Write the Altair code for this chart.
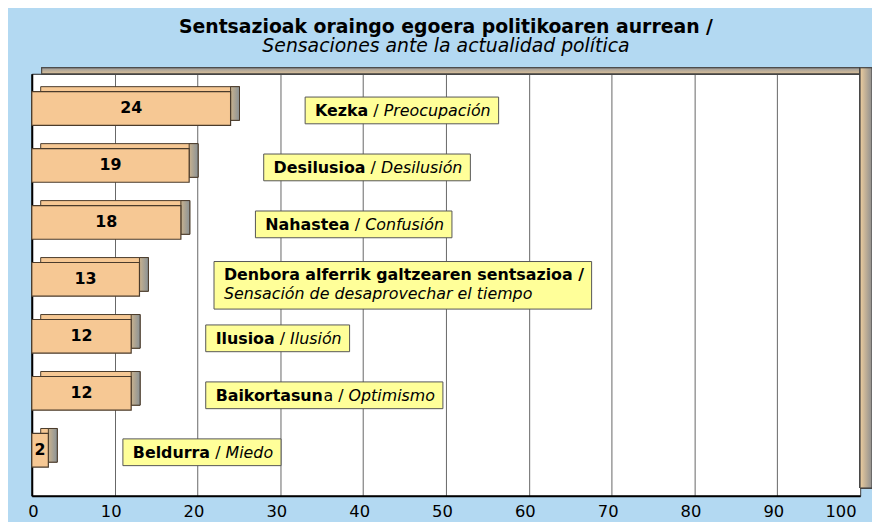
import altair as alt
import pandas as pd

# ---------------- data ----------------
title_eu = "Sentsazioak oraingo egoera politikoaren aurrean /"
title_es = "Sensaciones ante la actualidad política"
labels_eu = ["Kezka", "Desilusioa", "Nahastea",
             "Denbora alferrik galtzearen sentsazioa",
             "Ilusioa", "Baikortasuna", "Beldurra"]
labels_es = ["Preocupación", "Desilusión", "Confusión",
             "Sensación de desaprovechar el tiempo",
             "Ilusión", "Optimismo", "Miedo"]
values = [24, 19, 18, 13, 12, 12, 2]
x_ticks = [0, 10, 20, 30, 40, 50, 60, 70, 80, 90, 100]

# ---------------- layout / style ----------------
W, H = 836, 426
PXU = W / 100.0          # pixels per x unit
FS = 16
FONT = "DejaVu Sans"
BLUE = "#B3D9F2"
TAN = "#F6C894"
EDGE = "#4A3B2B"
YELLOW = "#FFFF99"
BOX_GAP = 9              # gap (x units) between bar end and label box
PAD_L, PAD_R = 10, 8
UNBOLD_TAIL = {"Baikortasuna": 1}   # last letter rendered regular in source

# DejaVu Sans advance widths (units per em 2048)
REG = {' ': 651, '/': 690, 'a': 1255, 'b': 1300, 'c': 1126, 'd': 1300, 'e': 1260,
       'f': 721, 'g': 1300, 'h': 1298, 'i': 569, 'j': 569, 'k': 1186, 'l': 569,
       'm': 1995, 'n': 1298, 'o': 1253, 'p': 1300, 'q': 1300, 'r': 842, 's': 1067,
       't': 803, 'u': 1298, 'v': 1212, 'w': 1675, 'x': 1212, 'y': 1212, 'z': 1075,
       'ó': 1253, 'í': 569, 'á': 1255, 'é': 1260, 'ú': 1298, 'A': 1401, 'B': 1405,
       'C': 1430, 'D': 1577, 'E': 1294, 'I': 604, 'K': 1343, 'M': 1767, 'N': 1532,
       'O': 1612, 'P': 1235, 'S': 1300}
BOLD = {' ': 713, '/': 747, 'a': 1382, 'b': 1466, 'c': 1219, 'd': 1466, 'e': 1389,
        'f': 891, 'g': 1466, 'h': 1458, 'i': 702, 'k': 1362, 'l': 702, 'm': 2134,
        'n': 1458, 'o': 1407, 'p': 1466, 'r': 1010, 's': 1219, 't': 979, 'u': 1458,
        'z': 1165, 'B': 1567, 'D': 1694, 'I': 760, 'K': 1587, 'N': 1714, 'S': 1475}


def tw(s, bold=False):
    tab = BOLD if bold else REG
    return sum(tab.get(c, 1400 if bold else 1250) for c in s) / 2048.0 * FS


bars = pd.DataFrame({"cat": labels_eu, "value": values})
bars["mid"] = bars["value"] / 2.0

boxes, segs = [], []
for eu, es, v in zip(labels_eu, labels_es, values):
    x0 = v + BOX_GAP
    two = len(eu) + len(es) > 40
    if two:
        l1 = eu + " /"
        w = max(tw(l1, True), tw(es))
        segs.append({"cat": eu, "sx": x0 + PAD_L / PXU, "t": l1, "k": "bt"})
        segs.append({"cat": eu, "sx": x0 + PAD_L / PXU, "t": es, "k": "ib"})
    else:
        n = UNBOLD_TAIL.get(eu, 0)
        bpart = eu[:len(eu) - n]
        tail = eu[len(eu) - n:]
        xb = x0 + PAD_L / PXU
        xr = xb + tw(bpart, True) / PXU
        # SVG drops leading/trailing blanks, so place the regular piece after its space
        rtext = (tail + " /") if tail else "/"
        xr_draw = xr if tail else xr + tw(" ") / PXU
        xi = xr + tw(tail + " / ") / PXU
        segs.append({"cat": eu, "sx": xb, "t": bpart, "k": "b1"})
        segs.append({"cat": eu, "sx": xr_draw, "t": rtext, "k": "r1"})
        segs.append({"cat": eu, "sx": xi, "t": es, "k": "i1"})
        w = tw(bpart, True) + tw(tail + " / ") + tw(es)
    boxes.append({"cat": eu, "bx0": x0, "bx1": x0 + (w + PAD_L + PAD_R) / PXU,
                  "two": 1 if two else 0})
boxes = pd.DataFrame(boxes)
segs = pd.DataFrame(segs)

# ---------------- encodings ----------------
xscale = alt.Scale(domain=[0, 100], nice=False, zero=True)
x_axis = alt.Axis(values=x_ticks, grid=True, gridColor="#666666", gridWidth=1,
                  ticks=False, domainColor="black", domainWidth=2,
                  labelFont=FONT, labelFontSize=16.5, labelColor="black",
                  labelPadding=8, labelOffset=-4, title=None)
yscale = alt.Scale(domain=labels_eu, paddingInner=0.409, paddingOuter=0.409,
                   align=0.383)
y_axis = alt.Axis(labels=False, ticks=False, title=None, grid=False,
                  domainColor="black", domainWidth=2)
Y = alt.Y("cat:N", sort=labels_eu, scale=yscale, axis=y_axis)


def grad(c0, c1, vertical=False):
    return {"gradient": "linear",
            "stops": [{"offset": 0, "color": c0}, {"offset": 1, "color": c1}],
            "x1": 0, "y1": 0, "x2": 0 if vertical else 1, "y2": 1 if vertical else 0}


base_b = alt.Chart(bars)

top_wall = base_b.mark_rect(
    color=grad("#9A9A9A", "#DCC199", vertical=True), stroke="#444", strokeWidth=1,
    xOffset=10, x2Offset=12
).encode(x=alt.datum(0, scale=xscale), x2=alt.datum(100),
         y=alt.value(-6), y2=alt.value(0))

right_wall = base_b.mark_rect(
    color=grad("#ECCD9E", "#8E8E8E"), stroke="#444", strokeWidth=1, x2Offset=12
).encode(x=alt.datum(100, scale=xscale), x2=alt.datum(100),
         y=alt.value(-6), y2=alt.value(H - 8))

bar_back = base_b.mark_bar(
    color=TAN, stroke=EDGE, strokeWidth=1, xOffset=9, x2Offset=9, yOffset=-5
).encode(x=alt.X("value:Q", scale=xscale, axis=x_axis), y=Y)

bar_side = base_b.mark_bar(
    color=grad("#C9B28E", "#8A9296"), stroke=EDGE, strokeWidth=1,
    x2Offset=9, yOffset=-5
).encode(x=alt.X("value:Q", scale=xscale), x2=alt.X2("value"), y=Y)

bar_front = base_b.mark_bar(
    color=TAN, stroke=EDGE, strokeWidth=1.2
).encode(x=alt.X("value:Q", scale=xscale), y=Y)

val_text = base_b.mark_text(
    font=FONT, fontSize=FS, fontWeight="bold", color="black", baseline="middle", dy=0
).encode(x=alt.X("mid:Q", scale=xscale), y=Y, text="value:Q")

base_box = alt.Chart(boxes)
box1 = base_box.transform_filter("datum.two == 0").mark_bar(
    color=YELLOW, stroke="#555555", strokeWidth=1, height=27, yOffset=2
).encode(x=alt.X("bx0:Q", scale=xscale), x2="bx1:Q", y=Y)
box2 = base_box.transform_filter("datum.two == 1").mark_bar(
    color=YELLOW, stroke="#555555", strokeWidth=1, height=48, yOffset=6
).encode(x=alt.X("bx0:Q", scale=xscale), x2="bx1:Q", y=Y)

base_s = alt.Chart(segs)


def seg_layer(kind, weight, style, dy):
    return base_s.transform_filter(f"datum.k == '{kind}'").mark_text(
        font=FONT, fontSize=FS, fontWeight=weight, fontStyle=style,
        color="black", align="left", baseline="middle", dy=dy
    ).encode(x=alt.X("sx:Q", scale=xscale), y=Y, text="t:N")


t_b1 = seg_layer("b1", "bold", "normal", 3)
t_r1 = seg_layer("r1", "normal", "normal", 3)
t_i1 = seg_layer("i1", "normal", "italic", 3)
t_bt = seg_layer("bt", "bold", "normal", -4)
t_ib = seg_layer("ib", "normal", "italic", 15)

chart = alt.layer(
    top_wall, right_wall, bar_back, bar_side, bar_front, val_text,
    box1, box2, t_b1, t_r1, t_i1, t_bt, t_ib
).properties(
    width=W, height=H,
    padding={"left": 24, "top": 64, "right": 12, "bottom": 24},
    autosize=alt.AutoSizeParams(type="none"),
    background=BLUE,
    title=alt.TitleParams(
        text=title_eu, subtitle=title_es, font=FONT, fontSize=19,
        fontWeight="bold", color="black", subtitleFont=FONT,
        subtitleFontSize=19, subtitleFontStyle="italic", subtitleColor="black",
        anchor="middle", offset=11, subtitlePadding=1, frame="group"),
).configure_view(
    fill="white", stroke="#222222", strokeWidth=1
)

chart.save("out.html", embed_options={"renderer": "svg", "actions": False})
